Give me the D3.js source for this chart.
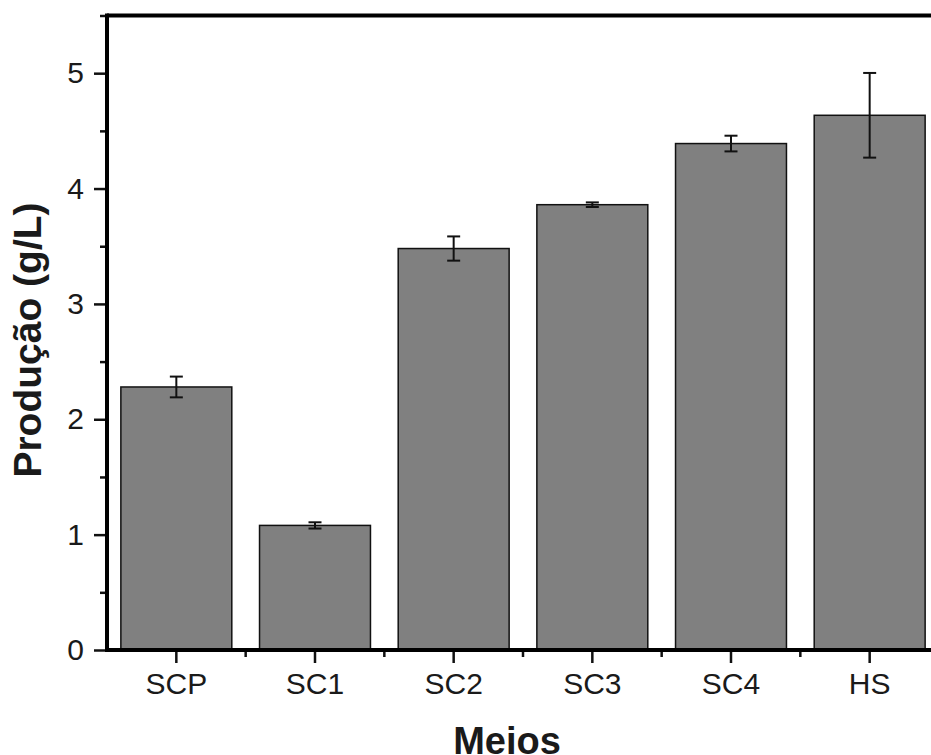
<!DOCTYPE html>
<html>
<head>
<meta charset="utf-8">
<script src="https://cdn.jsdelivr.net/npm/d3@7"></script>
<style>
  body { margin: 0; background: #fff; overflow: hidden; }
  svg { display: block; }
  text { font-family: "Liberation Sans", Arial, sans-serif; fill: #1a1a1a; }
</style>
</head>
<body>
<div id="chart"></div>
<script>
// values
var categories = ["SCP", "SC1", "SC2", "SC3", "SC4", "HS"];
var production = [2.28, 1.08, 3.48, 3.86, 4.39, 4.635];
var errors = [0.09, 0.027, 0.105, 0.02, 0.068, 0.367];
var yTicks = [0, 1, 2, 3, 4, 5];
var yMinor = [0.5, 1.5, 2.5, 3.5, 4.5, 5.5];

var width = 931, height = 755;
var plotLeft = 107, plotTop = 15.5, plotBottom = 650, plotRight = 939;

var svg = d3.select("#chart").append("svg")
    .attr("width", width)
    .attr("height", height);

var x = d3.scaleBand()
    .domain(categories)
    .range([plotLeft, plotRight])
    .paddingInner(0.2)
    .paddingOuter(0.1);

var y = d3.scaleLinear()
    .domain([0, 5.5])
    .range([plotBottom, plotTop]);

// bars
svg.selectAll("rect.bar")
    .data(categories)
    .enter()
    .append("rect")
    .attr("class", "bar")
    .attr("x", function (d) { return x(d); })
    .attr("width", x.bandwidth())
    .attr("y", function (d, i) { return y(production[i]); })
    .attr("height", function (d, i) { return y(0) - y(production[i]); })
    .attr("fill", "#808080")
    .attr("stroke", "#111")
    .attr("stroke-width", 1.5);

// error bars
var cap = 6.5;
var err = svg.append("g").attr("stroke", "#111").attr("stroke-width", 2);
categories.forEach(function (c, i) {
    var cx = x(c) + x.bandwidth() / 2;
    var hi = y(production[i] + errors[i]), lo = y(production[i] - errors[i]);
    err.append("line").attr("x1", cx).attr("x2", cx).attr("y1", hi).attr("y2", lo);
    err.append("line").attr("x1", cx - cap).attr("x2", cx + cap).attr("y1", hi).attr("y2", hi);
    err.append("line").attr("x1", cx - cap).attr("x2", cx + cap).attr("y1", lo).attr("y2", lo);
});

// y axis
var yAxis = svg.append("g")
    .attr("transform", "translate(" + plotLeft + ",0)")
    .call(d3.axisLeft(y).tickValues(yTicks).tickSize(13).tickPadding(10).tickFormat(d3.format("d")));
yAxis.select(".domain").remove();
yAxis.selectAll(".tick line").attr("stroke", "#111").attr("stroke-width", 2.5);
yAxis.selectAll(".tick text").style("font-size", "30px").attr("fill", "#1a1a1a");

var yMinorAxis = svg.append("g")
    .attr("transform", "translate(" + plotLeft + ",0)")
    .call(d3.axisLeft(y).tickValues(yMinor).tickSize(7).tickFormat(""));
yMinorAxis.select(".domain").remove();
yMinorAxis.selectAll(".tick line").attr("stroke", "#111").attr("stroke-width", 2.5);

// x axis
var xAxis = svg.append("g")
    .attr("transform", "translate(0," + plotBottom + ")")
    .call(d3.axisBottom(x).tickSize(13).tickPadding(10));
xAxis.select(".domain").remove();
xAxis.selectAll(".tick line").attr("stroke", "#111").attr("stroke-width", 2.5);
xAxis.selectAll(".tick text").style("font-size", "30px").attr("fill", "#1a1a1a");

// minor x ticks between categories
var step = x.step();
var xMinor = categories.slice(1).map(function (c) { return x(c) - (step - x.bandwidth()) / 2; });
svg.append("g").selectAll("line")
    .data(xMinor)
    .enter()
    .append("line")
    .attr("x1", function (d) { return d; })
    .attr("x2", function (d) { return d; })
    .attr("y1", plotBottom)
    .attr("y2", plotBottom + 7)
    .attr("stroke", "#111")
    .attr("stroke-width", 2.5);

// frame
var frame = svg.append("g").attr("stroke", "#000").attr("stroke-width", 4).attr("fill", "none");
frame.append("line").attr("x1", plotLeft).attr("x2", plotRight + 2).attr("y1", plotTop).attr("y2", plotTop);
frame.append("line").attr("x1", plotLeft).attr("x2", plotLeft).attr("y1", plotTop - 2).attr("y2", plotBottom + 2);
frame.append("line").attr("x1", plotLeft - 2).attr("x2", plotRight + 2).attr("y1", plotBottom).attr("y2", plotBottom);

// axis titles
svg.append("text")
    .attr("transform", "translate(41,340) rotate(-90)")
    .attr("text-anchor", "middle")
    .style("font-size", "39px")
    .style("font-weight", "bold")
    .text("Produção (g/L)");

svg.append("text")
    .attr("x", 507)
    .attr("y", 754)
    .attr("text-anchor", "middle")
    .style("font-size", "38px")
    .style("font-weight", "bold")
    .text("Meios");
</script>
</body>
</html>
